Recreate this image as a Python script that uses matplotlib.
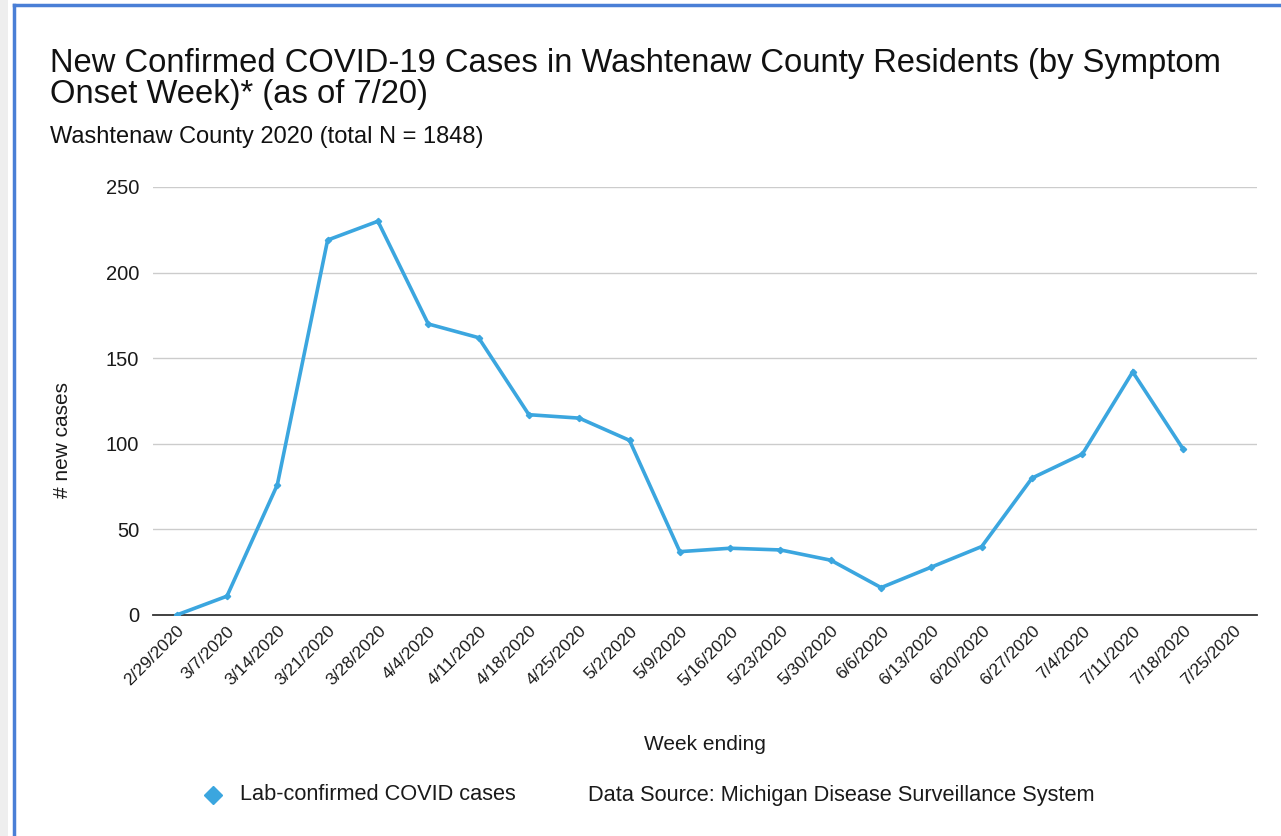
import matplotlib
matplotlib.use("Agg")
import matplotlib.pyplot as plt
import numpy as np
from matplotlib.lines import Line2D
from matplotlib.patches import Rectangle
from matplotlib.transforms import ScaledTranslation

plt.rcParams['font.family'] = ['Liberation Sans', 'DejaVu Sans']

weeks = ["2/29/2020", "3/7/2020", "3/14/2020", "3/21/2020", "3/28/2020", "4/4/2020",
         "4/11/2020", "4/18/2020", "4/25/2020", "5/2/2020", "5/9/2020", "5/16/2020",
         "5/23/2020", "5/30/2020", "6/6/2020", "6/13/2020", "6/20/2020", "6/27/2020",
         "7/4/2020", "7/11/2020", "7/18/2020", "7/25/2020"]
cases = [0, 11, 76, 219, 230, 170, 162, 117, 115, 102, 37, 39, 38, 32, 16, 28, 40,
         80, 94, 142, 97, np.nan]
yticks = [0, 50, 100, 150, 200, 250]

line_color = "#3ba6df"
text_color = "#1a1a1a"

fig = plt.figure(figsize=(12.81, 8.36), dpi=100)
ax = fig.add_axes([153/1281, 1 - 615/836, 1104/1281, 428/836])

x = np.arange(len(weeks))
ax.plot(x, cases, color=line_color, lw=2.6, marker='D', markersize=3.2,
        solid_joinstyle='miter')

ax.set_xlim(-0.47, len(weeks) - 0.53)
ax.set_ylim(0, 250)
ax.set_yticks(yticks)
ax.set_xticks(x)
ax.set_xticklabels(weeks, rotation=45, ha='right', rotation_mode='anchor', fontsize=12.5,
                   color=text_color)
offset = ScaledTranslation(6/100, 0, fig.dpi_scale_trans)
for lbl in ax.get_xticklabels():
    lbl.set_transform(lbl.get_transform() + offset)
ax.tick_params(axis='both', length=0)
ax.tick_params(axis='y', labelsize=14.5, pad=10, labelcolor=text_color)
ax.tick_params(axis='x', pad=6)
ax.grid(axis='y', color='#cccccc', lw=1)
ax.set_axisbelow(True)
for s in ['top', 'right', 'left']:
    ax.spines[s].set_visible(False)
ax.spines['bottom'].set_color('#333333')
ax.spines['bottom'].set_linewidth(1.3)
ax.spines['bottom'].set_zorder(1)

ax.set_xlabel("Week ending", fontsize=15, color=text_color)
ax.xaxis.set_label_coords(0.5, -(745 - 615) / 428)
ax.xaxis.label.set_va('center')
ax.set_ylabel("# new cases", fontsize=15, color=text_color)
ax.yaxis.set_label_coords(-(153 - 62) / 1104, (615 - 440) / 428)
ax.yaxis.label.set_va('center')

fig.text(50/1281, 1 - 72/836,
         "New Confirmed COVID-19 Cases in Washtenaw County Residents (by Symptom",
         fontsize=23.6, color='#111111', va='baseline')
fig.text(50/1281, 1 - 103/836, "Onset Week)* (as of 7/20)",
         fontsize=23.6, color='#111111', va='baseline')
fig.text(50/1281, 1 - 143/836, "Washtenaw County 2020 (total N = 1848)",
         fontsize=17, color='#111111', va='baseline')

# legend
fig.lines.append(Line2D([213/1281], [1 - 795/836], marker='D', markersize=9,
                        color=line_color, transform=fig.transFigure, ls='none'))
fig.text(240/1281, 1 - 795/836, "Lab-confirmed COVID cases", fontsize=15.7,
         color=text_color, va='center')
fig.text(588/1281, 1 - 795/836, "Data Source: Michigan Disease Surveillance System",
         fontsize=15.7, color=text_color, va='center')

# frame border of the screenshot
fig.patches.append(Rectangle((0, 0), 8/1281, 1, transform=fig.transFigure,
                             facecolor='#eeeeee', edgecolor='none'))
fig.lines.append(Line2D([14/1281, 14/1281], [0, 1 - 5/836], color='#4a7fd6', lw=2.5,
                        transform=fig.transFigure))
fig.lines.append(Line2D([14/1281, 1], [1 - 5/836, 1 - 5/836], color='#4a7fd6', lw=2.5,
                        transform=fig.transFigure))

fig.savefig("out.png", dpi=100)
